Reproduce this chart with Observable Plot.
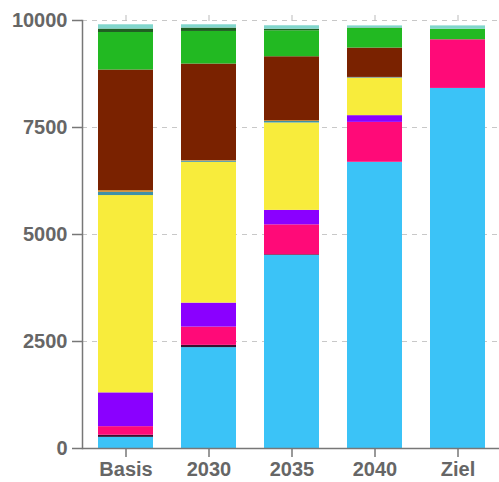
<!DOCTYPE html>
<html><head><meta charset="utf-8">
<script src="https://cdn.jsdelivr.net/npm/d3@7"></script>
<script src="https://cdn.jsdelivr.net/npm/@observablehq/plot@0.6"></script>
<style>html,body{margin:0;padding:0;background:#fff}#chart svg{display:block}</style>
</head><body><div id="chart"></div>
<script>
const categories = ["Basis", "2030", "2035", "2040", "Ziel"];
const seriesNames = ["Strom", "Sonstige", "Fernwärme", "Flüssiggas", "Erdgas", "Biogas", "Kohle", "Heizöl", "Holz", "Pellets", "Solarthermie"];
const seriesColors = ["#3bc3f7", "#3a1030", "#ff0a78", "#8a00ff", "#f8ec3c", "#3f90a8", "#d08a2a", "#7a2200", "#22b922", "#1f5f22", "#80d6cc"];
const strom        = [260, 2357, 4510, 6687, 8413];
const sonstige     = [50, 53, 16, 0, 0];
const fernwaerme   = [200, 427, 700, 933, 1137];
const fluessiggas  = [790, 560, 338, 157, 0];
const erdgas       = [4610, 3290, 2042, 870, 0];
const biogas       = [75, 25, 34, 15, 0];
const kohle        = [40, 15, 20, 8, 0];
const heizoel      = [2818, 2256, 1493, 686, 0];
const holz         = [877, 761, 607, 457, 247];
const pellets      = [80, 79, 37, 10, 0];
const solarthermie = [100, 77, 80, 51, 77];
const yTicks = [0, 2500, 5000, 7500, 10000];

const seriesValues = [strom, sonstige, fernwaerme, fluessiggas, erdgas, biogas, kohle, heizoel, holz, pellets, solarthermie];
const rows = [];
seriesNames.forEach((s, si) => {
  categories.forEach((c, ci) => rows.push({cat: c, series: s, value: seriesValues[si][ci]}));
});

const chart = Plot.plot({
  width: 499, height: 482,
  marginLeft: 82, marginRight: 0, marginTop: 20, marginBottom: 34,
  style: {fontFamily: "'Liberation Sans', Arial, sans-serif", fontSize: "20px", fontWeight: "bold", color: "#666", background: "#fff"},
  x: {domain: categories, range: [82, 501], paddingInner: 0.34, paddingOuter: 0.167, label: null},
  y: {domain: [0, 10000], label: null},
  color: {domain: seriesNames, range: seriesColors},
  marks: [
    Plot.gridY(yTicks, {stroke: "#c8c8c8", strokeOpacity: 1, strokeDasharray: "5,5", strokeWidth: 1.2}),
    Plot.barY(rows, {x: "cat", y: "value", fill: "series", order: seriesNames}),
    Plot.axisY(yTicks, {tickSize: 10, tickPadding: 5, tickFormat: d => String(d), stroke: "#777", strokeWidth: 1.5, label: null}),
    Plot.axisX({tickSize: 9, tickPadding: 4, stroke: "#777", strokeWidth: 1.5, label: null}),
    Plot.axisX({anchor: "top", tickSize: 6, tickFormat: () => "", stroke: "#bbb", label: null}),
    Plot.ruleY([0], {stroke: "#777", strokeWidth: 1.5}),
    Plot.frame({anchor: "left", stroke: "#777", strokeWidth: 1.5})
  ]
});
document.getElementById("chart").appendChild(chart);
</script>
</body></html>
